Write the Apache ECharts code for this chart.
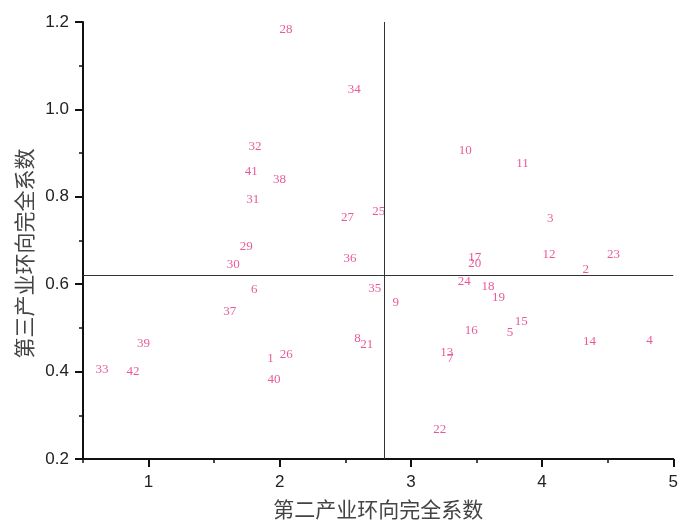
<!DOCTYPE html>
<html><head><meta charset="utf-8">
<script src="https://cdn.jsdelivr.net/npm/echarts@6/dist/echarts.min.js"></script>
<style>html,body{margin:0;padding:0;background:#fff}#c{width:681px;height:525px}</style>
</head><body><div id="c"></div>
<script>
const ids = ['1','2','3','4','5','6','7','8','9','10','11','12','13','14','15','16','17','18','19','20','21','22','23','24','25','26','27','28','29','30','31','32','33','34','35','36','37','38','39','40','41','42'];
const xs = [1.929,4.333,4.063,4.818,3.755,1.805,3.300,2.593,2.884,3.414,3.851,4.053,3.273,4.361,3.841,3.460,3.487,3.588,3.667,3.487,2.664,3.220,4.545,3.407,2.755,2.050,2.517,2.048,1.745,1.646,1.795,1.811,0.644,2.568,2.725,2.535,1.619,1.998,0.962,1.957,1.783,0.881];
const ys = [0.430,0.633,0.750,0.470,0.490,0.588,0.430,0.475,0.557,0.906,0.875,0.667,0.443,0.468,0.515,0.495,0.661,0.594,0.569,0.647,0.461,0.267,0.667,0.605,0.766,0.440,0.752,1.182,0.687,0.645,0.793,0.916,0.404,1.045,0.589,0.659,0.538,0.839,0.464,0.381,0.857,0.401];
const xMajorTicks = [1,2,3,4,5];
const xMinorTicks = [0.5,1.5,2.5,3.5,4.5];
const refX = 2.80;
const refY = 0.62;
const xTitle = '第二产业环向完全系数';
const yTitle = '第三产业环向完全系数';

const data = ids.map((id, i) => ({ name: id, value: [xs[i], ys[i]] }));
const axisColor = '#111';
const chart = echarts.init(document.getElementById('c'), null, { renderer: 'canvas' });
chart.setOption({
  animation: false,
  backgroundColor: '#fff',
  grid: { left: 83, right: 4, top: 22, bottom: 62 },
  xAxis: [{
    type: 'value', position: 'bottom', min: 0.5, max: 5,
    name: xTitle, nameLocation: 'middle', nameGap: 40,
    nameTextStyle: { fontFamily: 'Noto Sans CJK SC', fontSize: 21, color: '#444' },
    axisLine: { show: true, lineStyle: { color: axisColor, width: 2 } },
    axisTick: { show: true, customValues: xMajorTicks, length: 8, lineStyle: { color: axisColor, width: 2 } },
    axisLabel: { customValues: xMajorTicks, margin: 15, fontFamily: 'Liberation Sans', fontSize: 17, color: '#222' },
    splitLine: { show: false }
  }, {
    type: 'value', position: 'bottom', min: 0.5, max: 5, offset: 0,
    axisLine: { show: false },
    axisTick: { show: true, customValues: xMinorTicks, length: 4, lineStyle: { color: axisColor, width: 1.5 } },
    axisLabel: { show: false },
    splitLine: { show: false }
  }],
  yAxis: {
    type: 'value', min: 0.2, max: 1.2, interval: 0.2,
    name: yTitle, nameLocation: 'middle', nameGap: 48,
    nameTextStyle: { fontFamily: 'Noto Sans CJK SC', fontSize: 21, color: '#444', padding: [0, 26, 0, 0] },
    axisLine: { show: true, lineStyle: { color: axisColor, width: 2 } },
    axisTick: { show: true, length: 8, lineStyle: { color: axisColor, width: 2 } },
    minorTick: { show: true, splitNumber: 2, length: 4, lineStyle: { color: axisColor, width: 1.5 } },
    axisLabel: { margin: 14, fontFamily: 'Liberation Sans', fontSize: 17, color: '#222', formatter: v => v.toFixed(1) },
    splitLine: { show: false }
  },
  series: [{
    type: 'scatter', xAxisIndex: 0, yAxisIndex: 0,
    data: data,
    symbol: 'circle', symbolSize: 1,
    itemStyle: { color: 'rgba(255,255,255,0)' },
    label: { show: true, position: 'inside', formatter: p => p.name,
      fontFamily: 'Liberation Serif', fontSize: 13, color: '#e3307f' },
    labelLayout: { hideOverlap: false },
    emphasis: { disabled: true },
    markLine: {
      silent: true, symbol: ['none', 'none'],
      label: { show: false },
      lineStyle: { color: '#333', width: 1, type: 'solid' },
      data: [{ xAxis: refX }, { yAxis: refY }]
    }
  }]
});
</script></body></html>
